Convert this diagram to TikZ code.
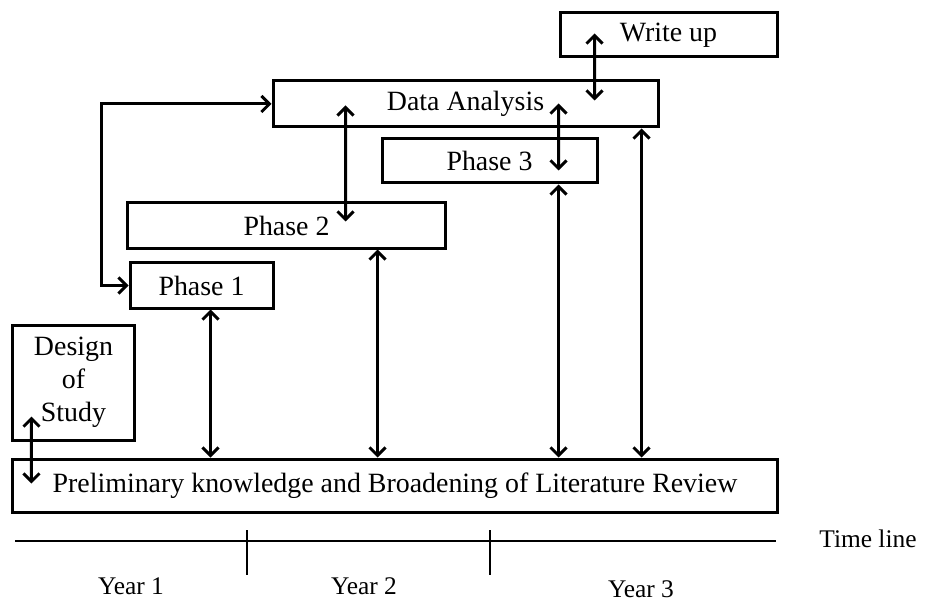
\documentclass[tikz,border=0pt]{standalone}
\usepackage{fontspec}
\setmainfont{Liberation Serif}
\usetikzlibrary{arrows.meta,calc}
\begin{document}
\begin{tikzpicture}[x=1bp,y=-1bp,
  box/.style={draw, line width=3bp, inner sep=0pt, font=\fontsize{28}{33}\selectfont, align=center},
  dbl/.style={line width=3bp, {Straight Barb[length=8bp,width=16bp]}-{Straight Barb[length=8bp,width=16bp]}},
  tl/.style={line width=1.2bp},
  lab/.style={font=\fontsize{25.5}{30}\selectfont, inner sep=0pt}]
\useasboundingbox (0,0) rectangle (934,602);
% boxes
\node[box, minimum width=217bp, minimum height=44bp] (writeup) at (668.5,35) {Write up};
\node[box, minimum width=385bp, minimum height=46bp] (da) at (465.5,104) {Data Analysis};
\node[box, minimum width=215bp, minimum height=44bp] (p3) at (489.5,161) {Phase 3};
\node[box, minimum width=317bp, minimum height=45bp] (p2) at (286.5,225.5) {Phase 2};
\node[box, minimum width=143bp, minimum height=45bp] (p1) at (201.5,285.5) {Phase 1};
\node[box, minimum width=121bp, minimum height=115bp] (design) at (73.5,382.5) {Design\\of\\Study};
\node[box, minimum width=764bp, minimum height=53bp] (prelim) at (395,485.5) {Preliminary knowledge and Broadening of Literature Review};
% connector end points
\coordinate (a1s) at ($(writeup.north west)+(36,22)$);
\coordinate (a1e) at ($(da.north west)+(323,21)$);
\coordinate (a2s) at ($(da.north west)+(287,24)$);
\coordinate (a2e) at ($(p3.north west)+(178,33)$);
\coordinate (a3s) at ($(da.north west)+(74,26)$);
\coordinate (a3e) at ($(p2.north west)+(219,20)$);
\coordinate (a4s) at ($(p3.south west)+(178,0)$);
\coordinate (a5s) at ($(da.south west)+(370,0)$);
\coordinate (a6s) at ($(p2.south west)+(251,0)$);
\coordinate (a7s) at ($(p1.south west)+(82,0)$);
\coordinate (a8s) at ($(design.north west)+(20,93)$);
\coordinate (a8e) at ($(prelim.north west)+(20,26)$);
% connectors
\draw[dbl] (a1s) -- (a1e);
\draw[dbl] (a2s) -- (a2e);
\draw[dbl] (a3s) -- (a3e);
\draw[dbl] (a4s) -- (a4s |- prelim.north);
\draw[dbl] (a5s) -- (a5s |- prelim.north);
\draw[dbl] (a6s) -- (a6s |- prelim.north);
\draw[dbl] (a7s) -- (a7s |- prelim.north);
\draw[dbl] (a8s) -- (a8e);
\draw[dbl] (p1.west) -- ++(-27,0) |- (da.west);
% time line
\draw[tl] (15,541) -- (776,541);
\draw[tl] (247,530) -- (247,575);
\draw[tl] (490,530) -- (490,575);
\node[lab] (tline) at (868,539) {Time line};
\node[lab] (y1) at (131,586) {Year 1};
\node[lab] (y2) at (364,586) {Year 2};
\node[lab] (y3) at (641,589) {Year 3};
\end{tikzpicture}
\end{document}
